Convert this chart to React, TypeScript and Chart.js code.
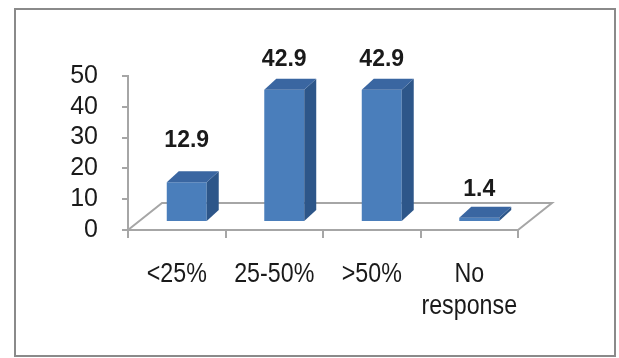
import { useEffect, useRef } from "react";
import { Chart, registerables } from "chart.js";

Chart.register(...registerables);

// Share of respondents per category (%)
const categories: (string | string[])[] = ["<25%", "25-50%", ">50%", ["No", "response"]];
const percentages = [12.9, 42.9, 42.9, 1.4];
const yMin = 0;
const yMax = 50;
const yStep = 10;

const FRONT = "#4a7ebb";
const SIDE = "#2d5689";
const TOP = "#3a66a1";
const AXIS = "#a6a6a6";
const TEXT = "#1a1a1a";

// depth of each bar box, offset of the bar row from the front plane, depth of the floor
const BOX = { dx: 12, dy: -11 };
const ROW = { dx: 10, dy: -8 };
const FLOOR = { dx: 34, dy: -27 };

const boxes3d = {
  id: "boxes3d",
  beforeDraw(chart: any) {
    const { ctx } = chart;
    ctx.save();
    ctx.strokeStyle = "#8a8a8a";
    ctx.lineWidth = 2;
    ctx.strokeRect(15, 9, 600, 347);
    ctx.restore();
  },
  beforeDatasetsDraw(chart: any) {
    const { ctx } = chart;
    const xs = chart.scales.x;
    const y0 = chart.scales.y.getPixelForValue(0);
    ctx.save();
    ctx.strokeStyle = AXIS;
    ctx.lineWidth = 2;
    ctx.beginPath();
    ctx.moveTo(xs.left, y0);
    ctx.lineTo(xs.left + FLOOR.dx, y0 + FLOOR.dy);
    ctx.lineTo(xs.right + FLOOR.dx, y0 + FLOOR.dy);
    ctx.lineTo(xs.right, y0);
    ctx.stroke();
    ctx.restore();
    // the bar row sits behind the front plane
    ctx.save();
    ctx.translate(ROW.dx, ROW.dy);
  },
  afterDatasetsDraw(chart: any, _args: any, opts: any) {
    const { ctx } = chart;
    const meta = chart.getDatasetMeta(0);
    meta.data.forEach((bar: any) => {
      const { x, y, base, width } = bar.getProps(["x", "y", "base", "width"], true);
      const l = x - width / 2;
      const r = x + width / 2;
      ctx.fillStyle = SIDE;
      ctx.beginPath();
      ctx.moveTo(r, base);
      ctx.lineTo(r + BOX.dx, base + BOX.dy);
      ctx.lineTo(r + BOX.dx, y + BOX.dy);
      ctx.lineTo(r, y);
      ctx.closePath();
      ctx.fill();
      ctx.fillStyle = TOP;
      ctx.beginPath();
      ctx.moveTo(l, y);
      ctx.lineTo(l + BOX.dx, y + BOX.dy);
      ctx.lineTo(r + BOX.dx, y + BOX.dy);
      ctx.lineTo(r, y);
      ctx.closePath();
      ctx.fill();
    });
    // value labels
    const values = chart.data.datasets[0].data as number[];
    ctx.fillStyle = TEXT;
    ctx.font = "bold 23px 'Liberation Sans', Arial, sans-serif";
    ctx.textAlign = "center";
    ctx.textBaseline = "middle";
    meta.data.forEach((bar: any, i: number) => {
      const { x, y } = bar.getProps(["x", "y"], true);
      ctx.fillText(values[i].toFixed(1), x, y - opts.lift[i]);
    });
    ctx.restore();
  },
  afterDraw(chart: any, _args: any, opts: any) {
    // category labels in a condensed face, centred under each category of the x scale
    const { ctx } = chart;
    const xs = chart.scales.x;
    ctx.save();
    ctx.fillStyle = TEXT;
    ctx.font = "28px 'Liberation Sans', Arial, sans-serif";
    ctx.textAlign = "center";
    ctx.textBaseline = "alphabetic";
    (chart.data.labels as (string | string[])[]).forEach((lab, i) => {
      const lines = Array.isArray(lab) ? lab : [lab];
      const cx = xs.getPixelForTick(i);
      lines.forEach((line, j) => {
        ctx.save();
        ctx.translate(cx, xs.top + opts.labelBaseline + j * opts.labelLine);
        ctx.scale(opts.condense, 1);
        ctx.fillText(line, 0, 0);
        ctx.restore();
      });
    });
    ctx.restore();
  },
};

export default function App() {
  const ref = useRef<HTMLCanvasElement | null>(null);

  useEffect(() => {
    document.body.style.margin = "0";
    const canvas = ref.current;
    if (!canvas) return;
    const chart = new Chart(canvas, {
      type: "bar",
      data: {
        labels: categories,
        datasets: [
          {
            data: percentages,
            backgroundColor: FRONT,
            borderWidth: 0,
            barPercentage: 0.41,
            categoryPercentage: 1,
            clip: false as any,
          },
        ],
      },
      options: {
        animation: false,
        responsive: false,
        devicePixelRatio: 1,
        layout: { padding: { left: 0, top: 76, right: 101, bottom: 0 } },
        plugins: {
          legend: { display: false },
          tooltip: { enabled: false },
          boxes3d: { lift: [42, 30, 30, 28], labelBaseline: 52, labelLine: 32, condense: 0.83 },
        } as any,
        scales: {
          x: {
            offset: true,
            grid: {
              offset: true,
              drawOnChartArea: false,
              drawTicks: true,
              tickLength: 8,
              color: AXIS,
              lineWidth: 2,
            },
            border: { color: AXIS, width: 2 },
            ticks: { display: false },
            afterFit: (s: any) => {
              s.height = 128;
            },
          },
          y: {
            min: yMin,
            max: yMax,
            grid: {
              drawOnChartArea: false,
              drawTicks: true,
              tickLength: 6,
              color: AXIS,
              lineWidth: 2,
            },
            border: { color: AXIS, width: 2 },
            ticks: {
              stepSize: yStep,
              autoSkip: false,
              color: TEXT,
              font: { family: "'Liberation Sans', Arial, sans-serif", size: 25 },
              padding: 24,
            },
            afterFit: (s: any) => {
              s.width = 128;
            },
          },
        },
      },
      plugins: [boxes3d],
    });
    return () => chart.destroy();
  }, []);

  return (
    <div style={{ width: 619, height: 358, background: "#fff" }}>
      <canvas ref={ref} width={619} height={358} style={{ display: "block", width: 619, height: 358 }} />
    </div>
  );
}
